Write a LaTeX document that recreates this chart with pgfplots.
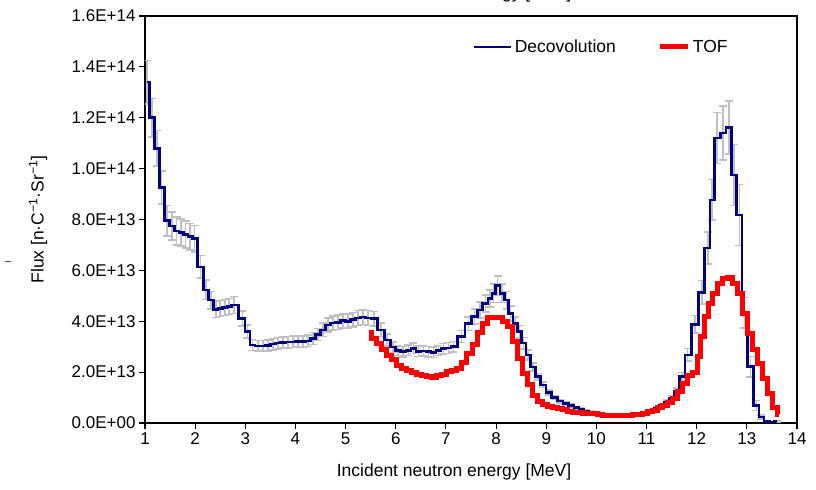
\documentclass[border=0pt]{standalone}
\usepackage{fontspec}
\setmainfont{Liberation Sans}
\usepackage{pgfplots}
\usepackage{pgfplotstable}
\pgfplotsset{compat=1.18}

\definecolor{decblue}{HTML}{000080}
\definecolor{tofred}{HTML}{FF0000}
\definecolor{errgray}{HTML}{C0C0C0}

\pgfplotsset{
  longsample/.style={legend image code/.code={\draw[##1] (0bp,0bp) -- (37bp,0bp);}},
  shortsample/.style={legend image code/.code={\draw[##1] (0bp,0bp) -- (28bp,0bp);}},
}

% Unfolded (deconvolution) spectrum: bin centre, flux, uncertainty
\pgfplotstableread{
E      F        dF
1.04   134e12   8.5e12
1.14   120e12   7.5e12
1.24   108e12   7e12
1.33   92.5e12  6.5e12
1.44   79.5e12  6e12
1.54   77.5e12  5.5e12
1.63   75.5e12  5.5e12
1.72   74.8e12  5.3e12
1.81   74.0e12  5.3e12
1.90   73.3e12  5.2e12
1.99   72.5e12  5.2e12
2.11   61.4e12  4.5e12
2.22   52.3e12  3.8e12
2.32   48.3e12  3.4e12
2.41   44.7e12  3.2e12
2.50   45.0e12  3.2e12
2.59   45.4e12  3.2e12
2.68   45.8e12  3.2e12
2.78   46.4e12  3.3e12
2.94   41.1e12  2.9e12
3.04   35.9e12  2.6e12
3.14   30.7e12  2.2e12
3.25   30.3e12  2.1e12
3.35   30.3e12  2.1e12
3.45   30.5e12  2.1e12
3.55   31.0e12  2.2e12
3.65   31.4e12  2.2e12
3.75   31.6e12  2.2e12
3.85   31.8e12  2.2e12
3.95   31.9e12  2.2e12
4.05   32.0e12  2.2e12
4.15   32.0e12  2.2e12
4.25   32.3e12  2.3e12
4.35   33.2e12  2.3e12
4.45   34.8e12  2.4e12
4.55   36.6e12  2.6e12
4.65   38.5e12  2.7e12
4.75   39.3e12  2.8e12
4.85   39.6e12  2.8e12
4.95   40.2e12  2.8e12
5.05   40.0e12  2.8e12
5.15   40.6e12  2.8e12
5.25   41.3e12  2.9e12
5.35   41.6e12  2.9e12
5.45   41.3e12  2.9e12
5.57   41.0e12  2.9e12
5.71   36.6e12  2.6e12
5.83   32.6e12  2.3e12
5.95   29.8e12  2.1e12
6.05   28.5e12  2.0e12
6.15   28.0e12  2.0e12
6.25   28.6e12  2.0e12
6.35   29.4e12  2.1e12
6.45   28.2e12  2.0e12
6.55   28.3e12  2.0e12
6.65   28.0e12  2.0e12
6.75   27.8e12  2.0e12
6.85   28.5e12  2.0e12
6.95   29.2e12  2.0e12
7.05   29.5e12  2.1e12
7.15   30.0e12  2.1e12
7.31   34.0e12  2.4e12
7.45   39.0e12  2.7e12
7.57   41.8e12  2.9e12
7.68   44.4e12  3.1e12
7.79   47.0e12  3.3e12
7.88   49.0e12  3.4e12
7.95   51.0e12  3.6e12
8.03   54.0e12  3.8e12
8.12   51.0e12  3.6e12
8.21   48.3e12  3.4e12
8.29   43.0e12  3.0e12
8.38   39.0e12  2.7e12
8.47   35.9e12  2.5e12
8.55   31.4e12  2.2e12
8.64   26.7e12  1.9e12
8.74   22.0e12  1.5e12
8.84   18.2e12  1.3e12
8.94   15.0e12  1.1e12
9.05   12.0e12  0.9e12
9.17   10.0e12  0.8e12
9.28   8.6e12   0.7e12
9.39   7.6e12   0.6e12
9.50   6.8e12   0.6e12
9.60   6.0e12   0.5e12
9.70   5.3e12   0.5e12
9.80   4.7e12   0.4e12
9.90   4.2e12   0.4e12
10.00  3.8e12   0.4e12
10.10  3.4e12   0.3e12
10.20  3.1e12   0.3e12
10.30  2.9e12   0.3e12
10.40  2.7e12   0.3e12
10.50  2.6e12   0.3e12
10.60  2.6e12   0.3e12
10.70  2.7e12   0.3e12
10.80  2.9e12   0.3e12
10.90  3.3e12   0.3e12
11.00  3.8e12   0.4e12
11.10  4.6e12   0.5e12
11.20  5.6e12   0.6e12
11.30  6.8e12   0.7e12
11.40  8.2e12   0.8e12
11.50  9.8e12   1.0e12
11.60  12.5e12  1.2e12
11.71  18.2e12  1.7e12
11.82  26.8e12  2.5e12
11.97  38.8e12  3.5e12
12.10  51.4e12  4.6e12
12.22  68.8e12  6.2e12
12.31  87.7e12  8e12
12.41  112e12   10e12
12.53  114e12   10.5e12
12.64  116.2e12 10.5e12
12.74  97.5e12  12e12
12.85  81.8e12  12e12
12.95  43.4e12  6e12
13.07  22.2e12  4e12
13.19  6.9e12   2e12
13.29  2.3e12   0.8e12
13.40  0.6e12   0.3e12
13.50  0.3e12   0.2e12
13.60  0.6e12   0.2e12
}\decon

% Time-of-flight spectrum
\pgfplotstableread{
E      F
5.47   35.6e12
5.57   33.4e12
5.67   31.4e12
5.77   28.7e12
5.87   26.7e12
5.97   24.8e12
6.07   22.8e12
6.17   21.5e12
6.27   20.6e12
6.37   20.0e12
6.47   19.2e12
6.57   18.6e12
6.67   18.2e12
6.77   18.0e12
6.87   18.5e12
6.97   19.2e12
7.07   20.2e12
7.17   20.8e12
7.27   21.5e12
7.37   23.6e12
7.47   27.5e12
7.57   30.7e12
7.67   35.4e12
7.77   39.3e12
7.87   41.3e12
7.97   41.5e12
8.07   41.5e12
8.17   40.0e12
8.27   37.9e12
8.37   32.0e12
8.47   25.5e12
8.57   19.6e12
8.67   15.0e12
8.77   11.0e12
8.87   8.4e12
8.97   7.2e12
9.07   6.6e12
9.17   6.2e12
9.27   5.8e12
9.37   5.2e12
9.47   4.7e12
9.57   4.3e12
9.67   4.0e12
9.77   3.9e12
9.87   3.8e12
9.97   3.6e12
10.07  3.3e12
10.17  3.0e12
10.27  2.9e12
10.37  2.9e12
10.47  2.9e12
10.57  2.9e12
10.67  3.0e12
10.77  3.2e12
10.87  3.5e12
10.97  3.9e12
11.07  4.5e12
11.17  5.1e12
11.27  6.0e12
11.37  7.0e12
11.47  8.2e12
11.57  9.8e12
11.67  12.5e12
11.77  15.5e12
11.87  18.5e12
11.97  19.8e12
12.05  26.0e12
12.12  33.9e12
12.20  41.8e12
12.28  47.0e12
12.37  51.0e12
12.47  54.9e12
12.57  56.9e12
12.67  57.3e12
12.77  54.9e12
12.87  51.0e12
12.97  43.1e12
13.07  35.3e12
13.17  28.7e12
13.27  23.5e12
13.37  17.6e12
13.47  11.7e12
13.57  6.0e12
13.65  3.5e12
}\tof

\newcommand{\lblfont}{\fontsize{17.5bp}{21bp}\selectfont}
\newcommand{\tckfont}{\fontsize{17bp}{20bp}\selectfont}

\begin{document}
\begin{tikzpicture}
\begin{axis}[
  at={(145bp,67bp)}, anchor=south west,
  scale only axis, width=652bp, height=407bp,
  xmin=1, xmax=14, ymin=0, ymax=1.6e14,
  xtick={1,2,...,14},
  ytick={0,2e13,4e13,6e13,8e13,1e14,1.2e14,1.4e14,1.6e14},
  yticklabels={0.0E+00,2.0E+13,4.0E+13,6.0E+13,8.0E+13,1.0E+14,1.2E+14,1.4E+14,1.6E+14},
  scaled y ticks=false,
  tick align=outside, xtick pos=left, ytick pos=left,
  major tick length=6bp,
  every tick/.style={black, line width=1.1bp},
  axis line style={line width=1.2bp},
  ticklabel style={font=\tckfont, /pgf/number format/assume math mode=true},
  xlabel={Incident neutron energy [MeV]},
  ylabel={Flux [n·C\textsuperscript{−1}·Sr\textsuperscript{−1}]},
  every axis x label/.style={at={(axis description cs:0.474,0)}, anchor=base, yshift=-53bp, font=\lblfont},
  every axis y label/.style={at={(axis description cs:-0.164,0.5)}, rotate=90, anchor=center, font=\lblfont},
  legend columns=2,
  legend style={at={(0.503,0.924)}, anchor=west, draw=none, fill=none, inner sep=0pt,
    font=\lblfont, /tikz/every even column/.append style={column sep=40bp}},
]
% uncertainty bars behind the unfolded spectrum
\addplot[forget plot, draw=none, mark=none,
  error bars/.cd, y dir=both, y explicit,
  error bar style={draw=errgray, line width=1.6bp},
  error mark options={draw=errgray, rotate=90, mark size=4bp, line width=1.6bp}]
  table[x=E, y=F, y error=dF] {\decon};

\addplot[decblue, line width=2.6bp, const plot mark mid, mark=none, longsample]
  table[x=E, y=F] {\decon};
\addlegendentry{Decovolution}

\addplot[tofred, line width=5bp, const plot mark mid, mark=none, shortsample]
  table[x=E, y=F] {\tof};
\addlegendentry{TOF}
\end{axis}
\node[anchor=base, font=\lblfont, inner sep=0pt] at (454bp,491bp) {Incident neutron energy [MeV]};
\draw[black!70, line width=1bp] (5bp,228bp) -- (11bp,228bp);
\pgfresetboundingbox
\useasboundingbox (0,0) rectangle (816bp,490bp);
\end{tikzpicture}
\end{document}
